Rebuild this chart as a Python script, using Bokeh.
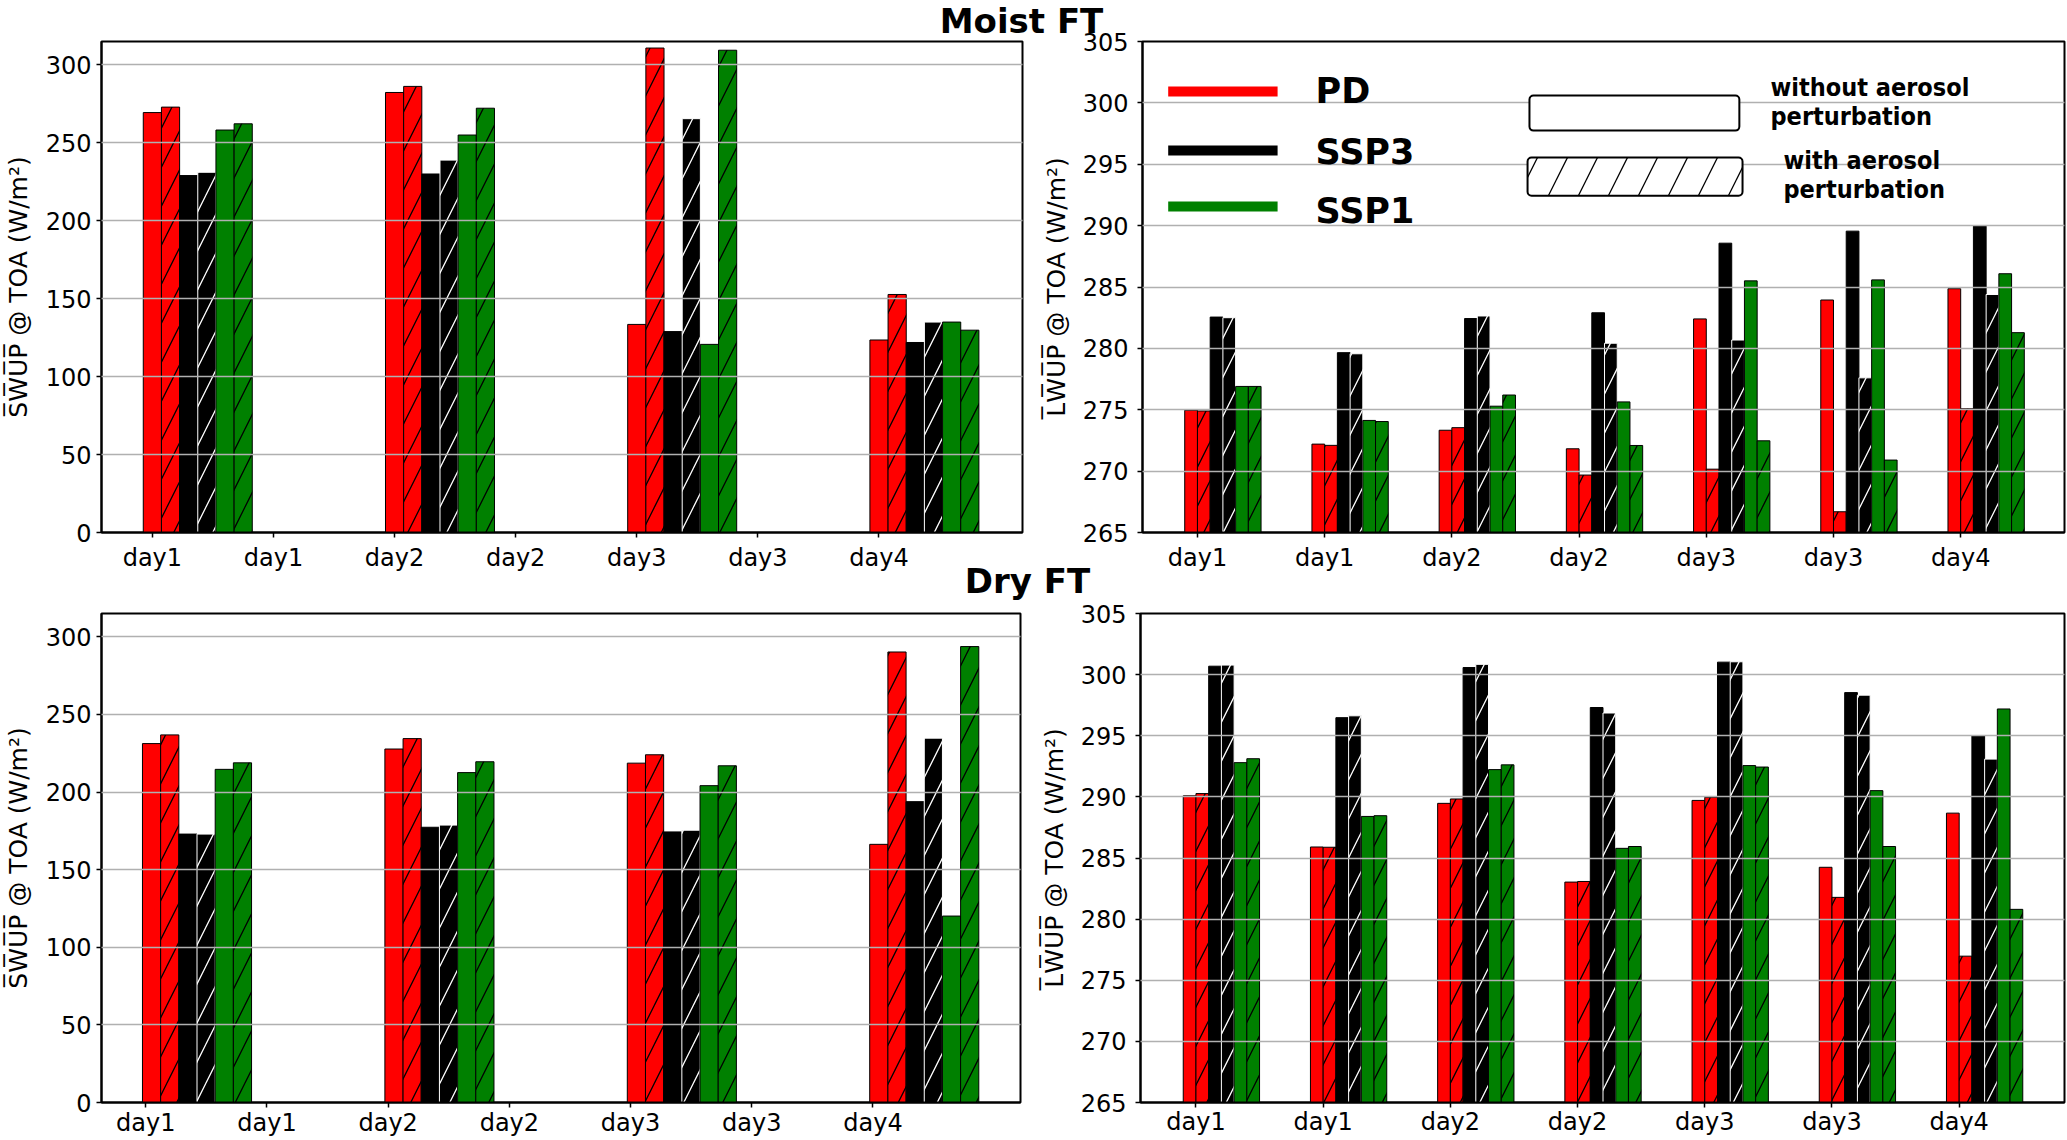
import numpy as np
from bokeh.plotting import figure
from bokeh.layouts import column, row
from bokeh.models import Range1d, FixedTicker, Label
from bokeh.core.properties import value
from bokeh.embed import file_html
from bokeh.resources import INLINE

# tick labels of the x axes
tick_labels = ["day1", "day1", "day2", "day2", "day3", "day3", "day4"]
sw_groups = [0, 2, 4, 6]
lw_groups = [0, 1, 2, 3, 4, 5, 6]

# shortwave up @ TOA, moist free troposphere
sw_moist_pd = [269.4, 282.3, 133.5, 123.5]
sw_moist_pd_aer = [272.9, 286.2, 310.8, 152.7]
sw_moist_ssp3 = [229.0, 230.0, 128.9, 121.9]
sw_moist_ssp3_aer = [231.1, 238.9, 265.5, 135.0]
sw_moist_ssp1 = [258.2, 255.0, 120.7, 135.0]
sw_moist_ssp1_aer = [262.2, 272.2, 309.4, 129.8]

# shortwave up @ TOA, dry free troposphere
sw_dry_pd = [231.2, 227.7, 218.6, 166.3]
sw_dry_pd_aer = [236.8, 234.4, 224.0, 290.2]
sw_dry_ssp3 = [172.9, 177.3, 174.3, 193.8]
sw_dry_ssp3_aer = [172.9, 178.7, 175.4, 234.7]
sw_dry_ssp1 = [214.6, 212.5, 204.1, 120.1]
sw_dry_ssp1_aer = [218.8, 219.5, 216.9, 293.7]

# longwave up @ TOA, moist free troposphere
lw_moist_pd = [274.96, 272.2, 273.33, 271.82, 282.4, 283.94, 284.86]
lw_moist_pd_aer = [274.9, 272.1, 273.54, 269.68, 270.16, 266.69, 275.08]
lw_moist_ssp3 = [282.55, 279.65, 282.43, 282.9, 288.57, 289.55, 289.96]
lw_moist_ssp3_aer = [282.5, 279.56, 282.64, 280.42, 280.68, 277.6, 284.39]
lw_moist_ssp1 = [276.9, 274.13, 275.29, 275.64, 285.5, 285.58, 286.08]
lw_moist_ssp1_aer = [276.9, 274.04, 276.2, 272.09, 272.47, 270.9, 281.28]

# longwave up @ TOA, dry free troposphere
lw_dry_pd = [290.09, 285.9, 289.47, 283.03, 289.71, 284.24, 288.67]
lw_dry_pd_aer = [290.27, 285.88, 289.83, 283.08, 289.97, 281.78, 276.97]
lw_dry_ssp3 = [300.69, 296.48, 300.58, 297.31, 301.02, 298.53, 294.99]
lw_dry_ssp3_aer = [300.78, 296.63, 300.84, 296.86, 301.05, 298.32, 293.09]
lw_dry_ssp1 = [292.8, 288.4, 292.23, 285.79, 292.56, 290.51, 297.19]
lw_dry_ssp1_aer = [293.12, 288.46, 292.62, 285.94, 292.44, 285.94, 280.8]

scenarios = ["PD", "SSP3", "SSP1"]
scen_colors = ["red", "black", "green"]

FONT = "DejaVu Sans"
NARROW = "DejaVu Sans Condensed, DejaVu Sans"

# (fill, hatched?, outline, hatch colour) for the six bars of one group
bar_styles = [
    ("red", False, "black", None),
    ("red", True, "black", "black"),
    ("black", False, "black", None),
    ("black", True, "white", "white"),
    ("green", False, "black", None),
    ("green", True, "black", "black"),
]


def panel(w, h, xr, yr, yticks, ylabel, mb, label_standoff, axis_standoff, x_standoff):
    p = figure(width=w, height=h, x_range=Range1d(*xr), y_range=Range1d(*yr),
               toolbar_location=None, output_backend="svg",
               min_border_left=mb[0], min_border_right=mb[1],
               min_border_top=mb[2], min_border_bottom=mb[3])
    p.xaxis.ticker = FixedTicker(ticks=list(range(7)))
    p.xaxis.major_label_overrides = {i: t for i, t in enumerate(tick_labels)}
    p.yaxis.ticker = FixedTicker(ticks=yticks)
    p.yaxis.axis_label = ylabel
    p.axis.minor_tick_line_color = None
    p.axis.major_tick_in = 0
    p.axis.major_tick_out = 5
    p.axis.major_tick_line_width = 1.5
    p.axis.axis_line_width = 2
    p.axis.major_label_text_font = FONT
    p.axis.major_label_text_font_size = "24px"
    p.axis.major_label_text_color = "black"
    p.yaxis.major_label_standoff = label_standoff
    p.xaxis.major_label_standoff = x_standoff
    p.yaxis.axis_label_standoff = axis_standoff
    p.yaxis.axis_label_text_font = FONT
    p.yaxis.axis_label_text_font_size = "25px"
    p.yaxis.axis_label_text_font_style = "normal"
    p.yaxis.axis_label_text_color = "black"
    p.xgrid.visible = False
    p.ygrid.grid_line_color = "#b0b0b0"
    p.ygrid.grid_line_width = 1.5
    p.ygrid.level = "guide"
    p.outline_line_color = "black"
    p.outline_line_width = 2
    return p


def add_bars(p, groups, series, width, offset):
    for i, (vals, st) in enumerate(zip(series, bar_styles)):
        x = np.array(groups, dtype=float) + offset + i * width
        kw = dict(fill_color=st[0], line_color=st[2], line_width=1)
        if st[1]:
            kw.update(hatch_pattern="/", hatch_color=st[3], hatch_scale=39, hatch_weight=1.3)
        p.vbar(x=x, top=vals, bottom=0, width=width, **kw)


sw_label = "S\u0305W\u0305U\u0305P\u0305 @ TOA (W/m\u00b2)"
lw_label = "L\u0305W\u0305U\u0305P\u0305 @ TOA (W/m\u00b2)"
sw_ticks = list(range(0, 301, 50))
lw_ticks = list(range(265, 306, 5))

p1 = panel(1030, 576, (-0.42, 7.185), (0, 315), sw_ticks, sw_label, (98, 8, 41, 44), 5, 10, 6)
add_bars(p1, sw_groups, [sw_moist_pd, sw_moist_pd_aer, sw_moist_ssp3, sw_moist_ssp3_aer,
                         sw_moist_ssp1, sw_moist_ssp1_aer], 0.15, 0.0)

p2 = panel(1037, 576, (-0.432, 6.816), (265, 305), lw_ticks, lw_label, (112, 3, 41, 44), 9, 9, 6)
add_bars(p2, lw_groups, [lw_moist_pd, lw_moist_pd_aer, lw_moist_ssp3, lw_moist_ssp3_aer,
                         lw_moist_ssp1, lw_moist_ssp1_aer], 0.1, -0.05)

p3 = panel(1030, 564, (-0.365, 7.217), (0, 315), sw_ticks, sw_label, (98, 10, 35, 38), 5, 10, 1)
add_bars(p3, sw_groups, [sw_dry_pd, sw_dry_pd_aer, sw_dry_ssp3, sw_dry_ssp3_aer,
                         sw_dry_ssp1, sw_dry_ssp1_aer], 0.15, 0.048)

p4 = panel(1037, 564, (-0.436, 6.828), (265, 305), lw_ticks, lw_label, (110, 3, 37, 37), 9, 9, 0)
add_bars(p4, lw_groups, [lw_dry_pd, lw_dry_pd_aer, lw_dry_ssp3, lw_dry_ssp3_aer,
                         lw_dry_ssp1, lw_dry_ssp1_aer], 0.1, -0.05)

# legend drawn inside the upper right panel
leg_x0, leg_x1, leg_tx = -0.23, 0.63, 0.928
leg_line_y = [300.92, 296.11, 291.55]
leg_text_y = [300.94, 295.98, 291.2]
for name, col, ly, ty in zip(scenarios, scen_colors, leg_line_y, leg_text_y):
    r = p2.segment(x0=leg_x0, y0=ly, x1=leg_x1, y1=ly, line_color=col, line_width=10)
    r.level = "annotation"
    r = p2.text(x=[leg_tx], y=[ty], text=[name], text_font=value(FONT), text_font_style="bold",
                text_font_size="35px", text_baseline="middle", text_color="black")
    r.level = "annotation"

r = p2.quad(left=2.61, right=4.26, top=300.6, bottom=297.74, fill_color="white",
            line_color="black", line_width=2, border_radius=4)
r.level = "annotation"
r = p2.quad(left=2.595, right=4.285, top=295.54, bottom=292.44, fill_color="white",
            line_color="black", line_width=2, border_radius=4,
            hatch_pattern="/", hatch_color="black", hatch_scale=60, hatch_weight=1.3)
r.level = "annotation"
leg_texts = [("without aerosol", 4.505, 301.23), ("perturbation", 4.505, 298.86),
             ("with aerosol", 4.607, 295.28), ("perturbation", 4.607, 292.91)]
for txt, tx, ty in leg_texts:
    r = p2.text(x=[tx], y=[ty], text=[txt], text_font=value(NARROW), text_font_style="bold",
                text_font_size="25px", text_baseline="middle", text_color="black")
    r.level = "annotation"

# transparent sheet on top of both rows that carries the two row titles
W, H = 2067, 1140
titles = figure(width=W, height=H, x_range=Range1d(0, W), y_range=Range1d(0, H),
                toolbar_location=None, output_backend="svg", x_axis_type=None, y_axis_type=None,
                min_border=0, outline_line_color=None, background_fill_color=None,
                border_fill_color=None, margin=(-H, 0, 0, 0))
titles.grid.visible = False
for txt, cx, mid in [("Moist FT", 1021, H - 20.5), ("Dry FT", 1027, H - 580.9)]:
    titles.add_layout(Label(x=cx, y=mid, text=txt, text_align="center",
                            text_baseline="middle", text_font=FONT, text_font_style="bold",
                            text_font_size="34px", text_color="black"))

layout = column(row(p1, p2), row(p3, p4), titles)

open("out.html", "w").write(file_html(layout, INLINE))
